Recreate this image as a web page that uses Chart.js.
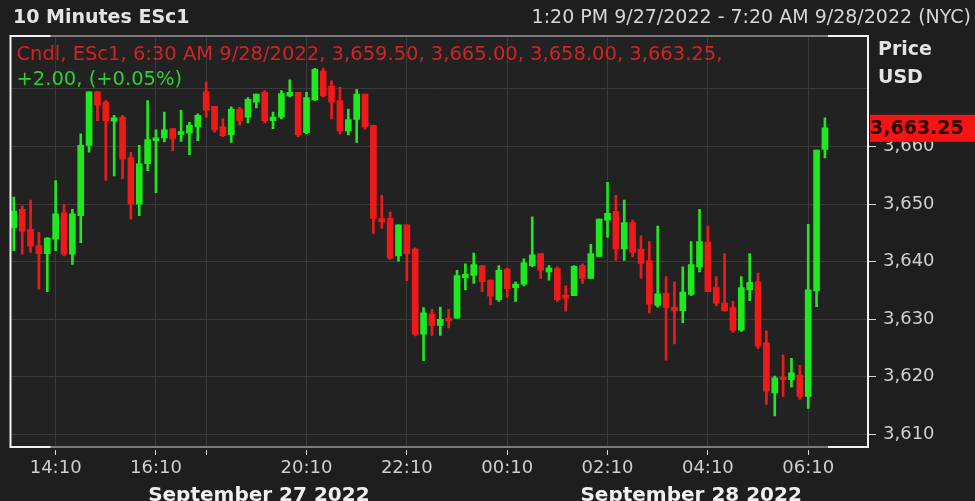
<!DOCTYPE html>
<html>
<head>
<meta charset="utf-8">
<script src="https://cdn.jsdelivr.net/npm/chart.js@4.4.0/dist/chart.umd.min.js"></script>
<style>
  html, body { margin: 0; padding: 0; background: #1e1e1e; }
  #wrap { width: 975px; height: 501px; }
</style>
</head>
<body>
<div id="wrap"><canvas id="chart"></canvas></div>
<script>
// 10-minute bars, 13:20 -> 07:20 (maintenance break 17:00-18:00 left out)
const times = [
  '13:20', '13:30', '13:40', '13:50',
  '14:00', '14:10', '14:20', '14:30', '14:40', '14:50',
  '15:00', '15:10', '15:20', '15:30', '15:40', '15:50',
  '16:00', '16:10', '16:20', '16:30', '16:40', '16:50',
  '18:00', '18:10', '18:20', '18:30', '18:40', '18:50',
  '19:00', '19:10', '19:20', '19:30', '19:40', '19:50',
  '20:00', '20:10', '20:20', '20:30', '20:40', '20:50',
  '21:00', '21:10', '21:20', '21:30', '21:40', '21:50',
  '22:00', '22:10', '22:20', '22:30', '22:40', '22:50',
  '23:00', '23:10', '23:20', '23:30', '23:40', '23:50',
  '00:00', '00:10', '00:20', '00:30', '00:40', '00:50',
  '01:00', '01:10', '01:20', '01:30', '01:40', '01:50',
  '02:00', '02:10', '02:20', '02:30', '02:40', '02:50',
  '03:00', '03:10', '03:20', '03:30', '03:40', '03:50',
  '04:00', '04:10', '04:20', '04:30', '04:40', '04:50',
  '05:00', '05:10', '05:20', '05:30', '05:40', '05:50',
  '06:00', '06:10', '06:20', '06:30', '06:40', '06:50',
  '07:00', '07:10', '07:20'
];

const opens = [
  3645.9, 3649.1, 3645.6, 3642.8, 3641.4, 3643.9, 3648.5, 3641.3, 3648.0, 3660.2,
  3669.5, 3667.7, 3664.4, 3665.1, 3658.1, 3650.0, 3657.0, 3661.0, 3661.5, 3663.1,
  3662.1, 3662.3, 3663.4, 3669.5, 3667.0, 3663.4, 3662.0, 3666.5, 3665.1, 3667.7,
  3669.4, 3664.5, 3665.1, 3668.8, 3669.4, 3662.4, 3668.1, 3673.1, 3670.5, 3668.0,
  3662.7, 3664.7, 3669.1, 3663.7, 3647.5, 3647.5, 3641.0, 3646.4, 3642.2, 3627.4,
  3630.9, 3628.9, 3630.2, 3630.2, 3637.2, 3637.6, 3639.3, 3636.8, 3633.4, 3638.7,
  3635.5, 3636.1, 3639.3, 3641.4, 3638.2, 3638.8, 3634.2, 3634.1, 3639.3, 3637.1,
  3640.9, 3647.2, 3648.7, 3642.2, 3646.8, 3642.2, 3640.2, 3632.4, 3634.5, 3632.1,
  3631.5, 3634.3, 3639.1, 3643.4, 3635.5, 3632.8, 3632.0, 3628.1, 3635.1, 3636.5,
  3625.9, 3617.2, 3619.9, 3619.5, 3620.3, 3616.6, 3634.9, 3659.5
];
const highs = [
  3651.2, 3649.7, 3650.7, 3645.1, 3644.2, 3654.1, 3649.9, 3649.1, 3662.2, 3669.5,
  3669.5, 3668.0, 3665.4, 3665.4, 3659.0, 3660.2, 3668.0, 3662.9, 3666.0, 3663.1,
  3666.3, 3664.2, 3665.7, 3671.2, 3667.0, 3664.8, 3666.9, 3666.8, 3668.5, 3669.1,
  3669.7, 3666.0, 3669.7, 3671.6, 3669.4, 3669.4, 3673.6, 3673.6, 3671.4, 3670.3,
  3666.5, 3669.9, 3669.1, 3663.7, 3651.5, 3648.6, 3646.4, 3646.4, 3642.4, 3632.0,
  3631.7, 3632.1, 3631.7, 3638.5, 3639.6, 3641.5, 3639.3, 3636.8, 3639.3, 3638.9,
  3636.5, 3640.5, 3647.8, 3641.4, 3639.3, 3639.1, 3635.8, 3639.3, 3639.6, 3643.0,
  3647.4, 3653.8, 3651.5, 3650.7, 3647.2, 3644.5, 3643.5, 3646.2, 3637.4, 3636.5,
  3639.1, 3643.5, 3649.1, 3646.2, 3637.4, 3641.4, 3633.1, 3637.4, 3641.4, 3638.0,
  3628.0, 3620.1, 3623.8, 3623.2, 3622.0, 3646.5, 3659.4, 3665.0
];
const lows = [
  3641.9, 3641.3, 3641.6, 3635.2, 3634.8, 3641.9, 3641.0, 3639.5, 3643.3, 3659.0,
  3664.5, 3654.1, 3654.9, 3654.4, 3647.4, 3648.0, 3655.8, 3652.0, 3660.8, 3659.3,
  3660.9, 3658.6, 3661.0, 3665.1, 3662.5, 3661.7, 3660.7, 3663.7, 3664.1, 3666.7,
  3664.1, 3663.1, 3664.8, 3668.6, 3661.7, 3662.2, 3668.0, 3668.6, 3664.8, 3662.2,
  3662.0, 3660.7, 3663.0, 3644.9, 3645.8, 3640.4, 3640.1, 3636.7, 3627.1, 3622.8,
  3627.2, 3627.2, 3628.5, 3630.2, 3635.1, 3636.2, 3634.8, 3632.5, 3633.1, 3633.8,
  3633.1, 3635.8, 3639.1, 3637.1, 3636.8, 3633.1, 3631.4, 3634.1, 3636.2, 3637.1,
  3640.8, 3644.2, 3640.2, 3640.2, 3640.8, 3637.1, 3631.1, 3632.1, 3622.9, 3625.7,
  3629.4, 3634.1, 3638.2, 3634.8, 3632.3, 3631.4, 3627.7, 3627.9, 3633.2, 3624.9,
  3615.2, 3613.2, 3616.6, 3618.2, 3616.1, 3614.5, 3632.2, 3658.0
];
const closes = [
  3648.8, 3645.3, 3642.7, 3641.4, 3644.1, 3648.3, 3641.3, 3648.3, 3660.2, 3669.5,
  3667.2, 3664.5, 3665.0, 3657.8, 3650.0, 3657.0, 3661.2, 3661.5, 3662.9, 3661.3,
  3662.6, 3663.7, 3665.4, 3666.3, 3662.9, 3661.9, 3666.5, 3664.5, 3668.2, 3669.1,
  3664.5, 3665.1, 3669.2, 3669.4, 3662.0, 3668.5, 3673.4, 3668.8, 3667.7, 3662.7,
  3664.7, 3669.1, 3663.4, 3647.5, 3646.9, 3640.6, 3646.4, 3641.4, 3627.4, 3631.1,
  3628.9, 3630.0, 3629.7, 3637.6, 3637.8, 3639.5, 3636.5, 3634.0, 3638.5, 3635.3,
  3636.1, 3639.8, 3641.2, 3638.5, 3638.9, 3633.4, 3633.6, 3639.2, 3637.1, 3641.4,
  3647.4, 3648.4, 3642.2, 3646.8, 3641.6, 3639.7, 3632.6, 3634.4, 3632.0, 3631.5,
  3634.7, 3639.5, 3643.5, 3634.8, 3632.8, 3631.5, 3628.1, 3635.5, 3636.4, 3625.3,
  3617.5, 3619.8, 3619.5, 3620.7, 3616.6, 3635.1, 3659.4, 3663.25
];

const tickLabels = ['14:10', '16:10', '18:10', '20:10', '22:10', '00:10', '02:10', '04:10', '06:10'];
const hiddenTickLabels = ['18:10'];
const dateLabels = ['September 27 2022', 'September 28 2022'];

const titleText = '10 Minutes ESc1';
const rangeText = '1:20 PM 9/27/2022 - 7:20 AM 9/28/2022 (NYC)';
const infoLine1 = 'Cndl, ESc1, 6:30 AM 9/28/2022, 3,659.50, 3,665.00, 3,658.00, 3,663.25,';
const infoLine2 = '+2.00, (+0.05%)';

const FONT = 'DejaVu Sans';
const upColor = '#1ee81e';
const downColor = '#ee1a1a';

const barColors = opens.map((o, i) => closes[i] >= o ? upColor : downColor);
const bodyData = opens.map((o, i) => ({ x: i, y: [o, closes[i]] }));
const wickData = opens.map((o, i) => ({ x: i, y: [lows[i], highs[i]] }));

// фон страницы и области графика
const backgroundPlugin = {
  id: 'bg',
  beforeDraw(chart) {
    const { ctx, chartArea: a } = chart;
    ctx.save();
    ctx.fillStyle = '#1e1e1e';
    ctx.fillRect(0, 0, chart.width, chart.height);
    ctx.fillStyle = '#222222';
    ctx.fillRect(a.left, a.top, a.right - a.left, a.bottom - a.top);
    ctx.restore();
  }
};

// рамка: белые боковые стороны и углы, серые верх и низ
const framePlugin = {
  id: 'frame',
  afterDatasetsDraw(chart) {
    const { ctx, chartArea: a } = chart;
    const corner = 40;
    ctx.save();
    ctx.lineWidth = 2;
    ctx.strokeStyle = '#7a7a7a';
    ctx.beginPath();
    ctx.moveTo(a.left, a.top); ctx.lineTo(a.right, a.top);
    ctx.moveTo(a.left, a.bottom); ctx.lineTo(a.right, a.bottom);
    ctx.stroke();
    ctx.strokeStyle = '#f2f2f2';
    ctx.beginPath();
    ctx.moveTo(a.left + corner, a.top); ctx.lineTo(a.left, a.top); ctx.lineTo(a.left, a.bottom); ctx.lineTo(a.left + corner, a.bottom);
    ctx.moveTo(a.right - corner, a.top); ctx.lineTo(a.right, a.top); ctx.lineTo(a.right, a.bottom); ctx.lineTo(a.right - corner, a.bottom);
    ctx.stroke();
    // зазор между рамкой и засечками оси времени
    ctx.fillStyle = '#1e1e1e';
    ctx.fillRect(a.left + corner, a.bottom + 1, a.right - a.left - 2 * corner, 2);
    ctx.restore();
  }
};

// заголовки, подписи и метка последней цены
const textPlugin = {
  id: 'texts',
  afterDraw(chart) {
    const { ctx, chartArea: a } = chart;
    const y = chart.scales.y;
    ctx.save();
    ctx.textBaseline = 'middle';

    ctx.fillStyle = '#e4e4e4';
    ctx.font = 'bold 19px "' + FONT + '"';
    ctx.textAlign = 'left';
    ctx.fillText(titleText, 13, 18);

    ctx.font = '19px "' + FONT + '"';
    ctx.fillStyle = '#d6d6d6';
    ctx.textAlign = 'right';
    ctx.fillText(rangeText, 971, 18);

    ctx.textAlign = 'left';
    ctx.font = '19.5px "' + FONT + '"';
    ctx.fillStyle = '#d42222';
    ctx.fillText(infoLine1, a.left + 6, 55);
    ctx.fillStyle = '#2ed02e';
    ctx.fillText(infoLine2, a.left + 6, 80);

    ctx.font = 'bold 19px "' + FONT + '"';
    ctx.fillStyle = '#e4e4e4';
    ctx.fillText('Price', a.right + 10, 50);
    ctx.fillText('USD', a.right + 10, 78);

    const last = closes[closes.length - 1];
    const py = y.getPixelForValue(last);
    ctx.fillStyle = '#f41414';
    ctx.fillRect(a.right + 2, py - 13, chart.width - a.right - 2, 27);
    ctx.fillStyle = '#2a0000';
    ctx.font = 'bold 19px "' + FONT + '"';
    ctx.fillText(last.toLocaleString('en-US', { minimumFractionDigits: 2 }), a.right + 2, py + 1);
    ctx.restore();
  }
};

new Chart(document.getElementById('chart'), {
  type: 'bar',
  data: {
    datasets: [
      { label: 'body', data: bodyData, backgroundColor: barColors, barThickness: 6, grouped: false, borderWidth: 0 },
      { label: 'wick', data: wickData, backgroundColor: barColors, barThickness: 2, grouped: false, borderWidth: 0 }
    ]
  },
  options: {
    responsive: true,
    maintainAspectRatio: false,
    animation: false,
    layout: { padding: { left: 10.5, top: 36, right: 0, bottom: 0 } },
    plugins: { legend: { display: false }, tooltip: { enabled: false } },
    scales: {
      x: {
        type: 'linear',
        min: -0.4,
        max: 102.15,
        offset: false,
        weight: 0,
        afterBuildTicks: s => { s.ticks = tickLabels.map(l => ({ value: times.indexOf(l) })); },
        afterFit: s => { s.height = 33; },
        ticks: {
          autoSkip: false,
          maxRotation: 0,
          padding: 3,
          color: '#cfcfcf',
          font: { family: FONT, size: 18 },
          callback: v => hiddenTickLabels.includes(times[v]) ? '' : times[v]
        },
        grid: { offset: false, color: '#3a3a3a', tickLength: 8, tickColor: '#d8d8d8' },
        border: { display: false }
      },
      x2: {
        type: 'linear',
        position: 'bottom',
        min: -0.4,
        max: 102.15,
        offset: false,
        weight: 1,
        afterBuildTicks: s => { s.ticks = [{ value: 29.3 }, { value: 81 }]; },
        afterFit: s => { s.height = 21; },
        ticks: {
          autoSkip: false,
          maxRotation: 0,
          padding: -4,
          color: '#f0f0f0',
          font: { family: FONT, size: 20, weight: 'bold' },
          callback: (v, i) => dateLabels[i]
        },
        grid: { display: false, offset: false },
        border: { display: false }
      },
      y: {
        position: 'right',
        min: 3607.8,
        max: 3679.2,
        afterFit: s => { s.width = 107; },
        ticks: {
          stepSize: 10,
          includeBounds: false,
          padding: 7,
          color: '#cfcfcf',
          font: { family: FONT, size: 18 },
          callback: v => v >= 3670 ? '' : v.toLocaleString('en-US')
        },
        grid: {
          color: '#3a3a3a',
          tickLength: 8,
          tickColor: c => (c.tick && c.tick.value >= 3670) ? 'rgba(0,0,0,0)' : '#d8d8d8'
        },
        border: { display: false }
      }
    }
  },
  plugins: [backgroundPlugin, framePlugin, textPlugin]
});
</script>
</body>
</html>
